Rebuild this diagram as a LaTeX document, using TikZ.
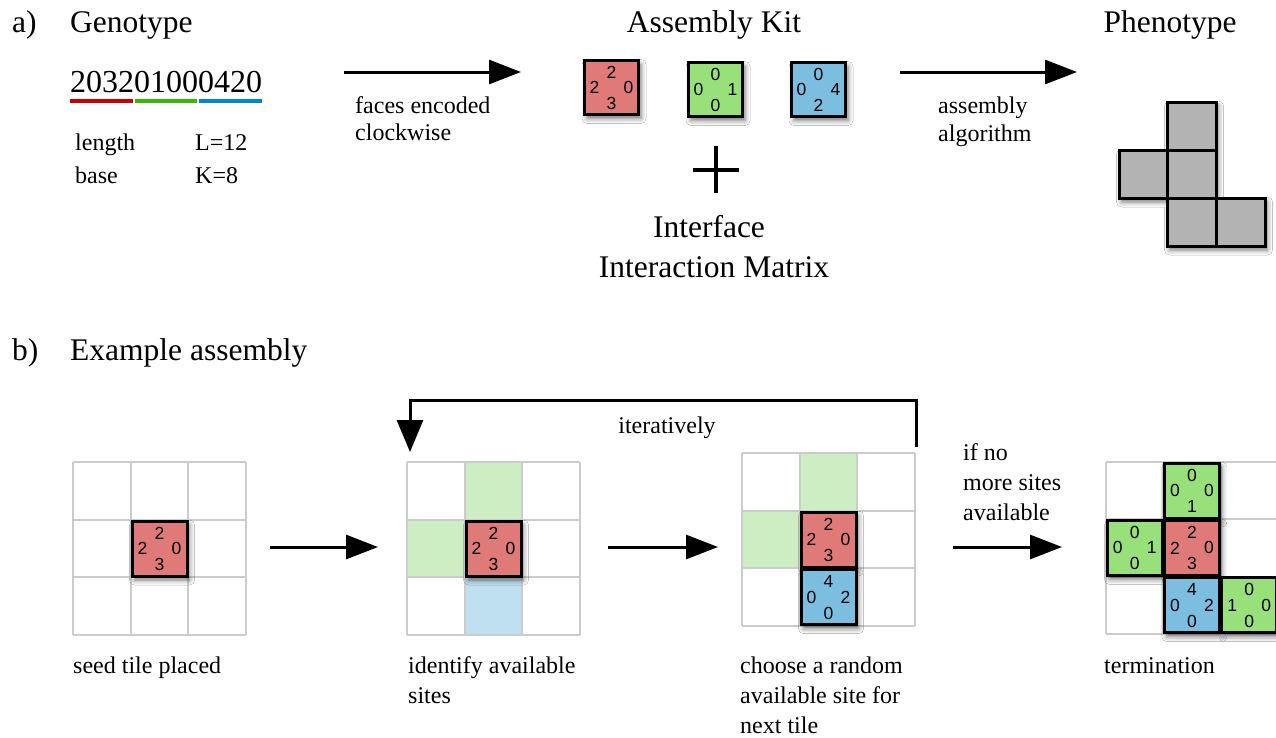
\documentclass[tikz,border=0pt]{standalone}
\usepackage{fontspec}
\setmainfont{Liberation Serif}
\newfontfamily\tilefont{Liberation Sans}
\usetikzlibrary{arrows.meta,shadows.blur}
\definecolor{tilered}{RGB}{224,122,120}
\definecolor{tilegreen}{RGB}{152,224,122}
\definecolor{tileblue}{RGB}{123,190,224}
\definecolor{availgreen}{RGB}{205,238,195}
\definecolor{availblue}{RGB}{190,224,240}
\definecolor{gridgray}{RGB}{204,204,204}
\definecolor{phengray}{RGB}{179,179,179}
\definecolor{ured}{RGB}{204,0,0}
\definecolor{ugreen}{RGB}{51,187,0}
\definecolor{ublue}{RGB}{0,136,204}
\tikzset{
  titletext/.style={font=\fontsize{31.5}{38}\selectfont, inner sep=0pt, anchor=base west},
  smalltext/.style={font=\fontsize{24}{30}\selectfont, inner sep=0pt, anchor=base west},
  tnum/.style={font=\tilefont\fontsize{17.5}{17.5}\selectfont, inner sep=0pt, anchor=center},
  tileshadow/.style={blur shadow={shadow xshift=2.5pt, shadow yshift=-4pt, shadow blur radius=5pt, shadow opacity=55}},
  tilebox/.style={draw=black, line width=3pt, inner sep=0pt, outer sep=0pt, rectangle, tileshadow},
  arr/.style={draw=black, draw opacity=1, line width=3pt, -{Triangle[length=32pt,width=24pt]}},
  gridln/.style={draw=gridgray, line width=2pt},
}
\newcommand\tileat[9]{%
  \node[tilebox, fill=#5, minimum size=#4] (#1) at (#2,#3) {};
  \node[tnum] at ([yshift=15.5pt]#1.center) {#6};
  \node[tnum] at ([xshift=17pt]#1.center) {#7};
  \node[tnum] at ([yshift=-16pt]#1.center) {#8};
  \node[tnum] at ([xshift=-17pt]#1.center) {#9};
}
% grid: #1 x0, #2 y0, #3 cell
\newcommand\gridat[3]{%
  \foreach \i in {0,1,2,3} {
    \draw[gridln] ({#1+\i*#3},#2) -- ({#1+\i*#3},{#2+3*#3});
    \draw[gridln] (#1,{#2+\i*#3}) -- ({#1+3*#3},{#2+\i*#3});
  }
}
\begin{document}
\begin{tikzpicture}[x=1pt,y=-1pt]
\useasboundingbox[fill=white] (0,0) rectangle (1276,737);

% ---------- arrows (drawn first) ----------
\coordinate (a1s) at (344,72);
\coordinate (a1e) at (521,72);
\draw[arr] (a1s) -- (a1e);
\coordinate (a2s) at (900,72);
\coordinate (a2e) at (1077,72);
\draw[arr] (a2s) -- (a2e);
\coordinate (b1s) at (270,547);
\coordinate (b1e) at (378,547);
\draw[arr] (b1s) -- (b1e);
\coordinate (b2s) at (608,547);
\coordinate (b2e) at (718,547);
\draw[arr] (b2s) -- (b2e);
\coordinate (b3s) at (953,547);
\coordinate (b3e) at (1062,547);
\draw[arr] (b3s) -- (b3e);
\coordinate (itA) at (916,447);
\coordinate (itB) at (916,400);
\coordinate (itC) at (410,400);
\coordinate (itD) at (410,452);
\draw[arr, line join=miter, -{Triangle[length=32pt,width=26pt]}] (itA) -- (itB) -- (itC) -- (itD);

% ---------- a) ----------
\node[titletext] (alabel) at (12,32) {a)};
\node[titletext] (genotitle) at (70,32) {Genotype};
\node[titletext, anchor=base] (kittitle) at (714,32) {Assembly Kit};
\node[titletext, anchor=base] (phenotitle) at (1170,32) {Phenotype};

\node[font=\fontsize{32}{38}\selectfont, inner sep=0pt, anchor=base west] (genome) at (70,92) {203201000420};
\draw[ured, line width=4pt] (70,100.5) -- (133,100.5);
\draw[ugreen, line width=4pt] (135,100.5) -- (197,100.5);
\draw[ublue, line width=4pt] (199,100.5) -- (262,100.5);

\node[smalltext] (lenlab) at (75,150) {length};
\node[smalltext] (lenval) at (195,150) {L=12};
\node[smalltext] (baselab) at (75,183) {base};
\node[smalltext] (baseval) at (195,183) {K=8};

\node[smalltext] (faces1) at (355,113) {faces encoded};
\node[smalltext] (faces2) at (355,140) {clockwise};

\coordinate (pc) at (716,170);
\draw[line width=3.5pt] ([xshift=-23pt]pc) -- ([xshift=23pt]pc);
\draw[line width=3.5pt] ([yshift=24pt]pc) -- ([yshift=-23pt]pc);

\node[titletext, anchor=base] (iface1) at (709,237) {Interface};
\node[titletext, anchor=base] (iface2) at (714,277) {Interaction Matrix};

\node[smalltext] (alg1) at (938,113) {assembly};
\node[smalltext] (alg2) at (938,141) {algorithm};

% ---------- b) texts ----------
\node[titletext] (blabel) at (12,360) {b)};
\node[titletext] (extitle) at (70,360) {Example assembly};
\node[smalltext, anchor=base] (iterlab) at (667,433) {iteratively};
\node[smalltext] (ifno1) at (963,460) {if no};
\node[smalltext] (ifno2) at (963,490) {more sites};
\node[smalltext] (ifno3) at (963,520) {available};
\node[smalltext] (cap1) at (73,673) {seed tile placed};
\node[smalltext] (cap2a) at (408,673) {identify available};
\node[smalltext] (cap2b) at (408,703) {sites};
\node[smalltext] (cap3a) at (740,673) {choose a random};
\node[smalltext] (cap3b) at (740,703) {available site for};
\node[smalltext] (cap3c) at (740,733) {next tile};
\node[smalltext] (cap4) at (1104,673) {termination};

% ---------- kit tiles ----------
\tileat{kred}{611.5}{87.5}{54}{tilered}{2}{0}{3}{2}
\tileat{kgreen}{715.5}{89.5}{54}{tilegreen}{0}{1}{0}{0}
\tileat{kblue}{818.5}{89.5}{54}{tileblue}{0}{4}{2}{0}

% ---------- phenotype ----------
\fill[phengray, tileshadow] (1167,102) -- (1216,102) -- (1216,198) -- (1265,198) -- (1265,246) -- (1167,246) -- (1167,198) -- (1119,198) -- (1119,150) -- (1167,150) -- cycle;
\draw[line width=3pt, line join=miter] (1167,102) rectangle (1216,150);
\draw[line width=3pt, line join=miter] (1119,150) rectangle (1167,198);
\draw[line width=3pt, line join=miter] (1167,150) rectangle (1216,198);
\draw[line width=3pt, line join=miter] (1167,198) rectangle (1216,246);
\draw[line width=3pt, line join=miter] (1216,198) rectangle (1265,246);

% ---------- grid 1 ----------
\gridat{73}{462}{57.7}
\tileat{g1red}{159.5}{548.5}{55}{tilered}{2}{0}{3}{2}

% ---------- grid 2 ----------
\fill[availgreen] (464.7,462) rectangle (522.4,519.7);
\fill[availgreen] (407,519.7) rectangle (464.7,577.4);
\fill[availblue] (464.7,577.4) rectangle (522.4,635.1);
\gridat{407}{462}{57.7}
\tileat{g2red}{493.5}{548.5}{55}{tilered}{2}{0}{3}{2}

% ---------- grid 3 ----------
\fill[availgreen] (799.7,453) rectangle (857.4,510.7);
\fill[availgreen] (742,510.7) rectangle (799.7,568.4);
\gridat{742}{453}{57.7}
\tileat{g3red}{828.5}{539.5}{55}{tilered}{2}{0}{3}{2}
\tileat{g3blue}{828.5}{597.2}{55}{tileblue}{4}{2}{0}{0}

% ---------- grid 4 ----------
\gridat{1106}{462}{57.3}
\tileat{g4top}{1191.9}{490.6}{55}{tilegreen}{0}{0}{1}{0}
\tileat{g4left}{1134.6}{547.9}{55}{tilegreen}{0}{1}{0}{0}
\tileat{g4red}{1191.9}{547.9}{55}{tilered}{2}{0}{3}{2}
\tileat{g4blue}{1191.9}{605.2}{55}{tileblue}{4}{2}{0}{0}
\tileat{g4right}{1249.2}{605.2}{55}{tilegreen}{0}{0}{0}{1}
\end{tikzpicture}
\end{document}
